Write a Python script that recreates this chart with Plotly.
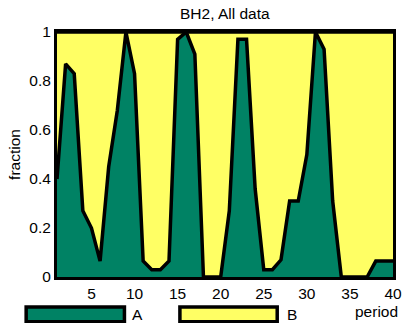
import plotly.graph_objects as go

periods = list(range(1, 41))
frac_A = [0.40, 0.87, 0.83, 0.27, 0.20, 0.065, 0.45, 0.68, 1.00, 0.83,
          0.065, 0.03, 0.03, 0.065, 0.97, 1.00, 0.91, 0.00, 0.00, 0.00,
          0.27, 0.97, 0.97, 0.36, 0.03, 0.03, 0.07, 0.31, 0.31, 0.50,
          1.00, 0.93, 0.31, 0.00, 0.00, 0.00, 0.00, 0.065, 0.065, 0.065]
frac_B = [0.60, 0.13, 0.17, 0.73, 0.80, 0.935, 0.55, 0.32, 0.00, 0.17,
          0.935, 0.97, 0.97, 0.935, 0.03, 0.00, 0.09, 1.00, 1.00, 1.00,
          0.73, 0.03, 0.03, 0.64, 0.97, 0.97, 0.93, 0.69, 0.69, 0.50,
          0.00, 0.07, 0.69, 1.00, 1.00, 1.00, 1.00, 0.935, 0.935, 0.935]
series_names = ["A", "B"]
colors = ["#008264", "#FFFF64"]
x_ticks = [5, 10, 15, 20, 25, 30, 35, 40]
y_ticks = [0, 0.2, 0.4, 0.6, 0.8, 1]

FONT = "Liberation Sans, Arial, sans-serif"
FS = 15.5

fig = go.Figure()
for name, vals, col in zip(series_names, [frac_A, frac_B], colors):
    fig.add_trace(go.Scatter(
        x=periods, y=vals, name=name, mode="lines", stackgroup="one",
        fillcolor=col, line=dict(color="black", width=3.5),
        showlegend=False,
    ))

fig.update_layout(
    width=412, height=323,
    margin=dict(l=57, r=10, t=32, b=46),
    paper_bgcolor="white", plot_bgcolor="white",
    font=dict(family=FONT, size=FS, color="black"),
    xaxis=dict(range=[1, 40], tickvals=x_ticks, showgrid=False, zeroline=False,
               showline=True, mirror=True, linecolor="black", linewidth=3,
               ticks="", tickfont=dict(size=FS)),
    yaxis=dict(range=[0, 1], tickvals=y_ticks, showgrid=False, zeroline=False,
               showline=True, mirror=True, linecolor="black", linewidth=3,
               ticks="", tickfont=dict(size=FS),
               title=dict(text="fraction", font=dict(size=FS), standoff=5)),
)

# title
fig.add_annotation(text="BH2, All data", xref="paper", yref="paper", x=0.5, y=1.0757,
                   showarrow=False, font=dict(size=FS), xanchor="center", yanchor="middle")
# x-axis label
fig.add_annotation(text="period", xref="paper", yref="paper", x=0.950, y=-0.142,
                   showarrow=False, font=dict(size=FS), xanchor="center", yanchor="middle")

# legend drawn manually
leg = [(-0.0918, 0.2007, 0.241), (0.3658, 0.6554, 0.699)]
for (x0, x1, xl), name, col in zip(leg, series_names, colors):
    fig.add_shape(type="rect", xref="paper", yref="paper", x0=x0, x1=x1,
                  y0=-0.183, y1=-0.1227, fillcolor=col,
                  line=dict(color="black", width=3.5))
    fig.add_annotation(text=name, xref="paper", yref="paper", x=xl, y=-0.153,
                       showarrow=False, font=dict(size=FS), xanchor="center", yanchor="middle")

fig.write_html("out.html")
